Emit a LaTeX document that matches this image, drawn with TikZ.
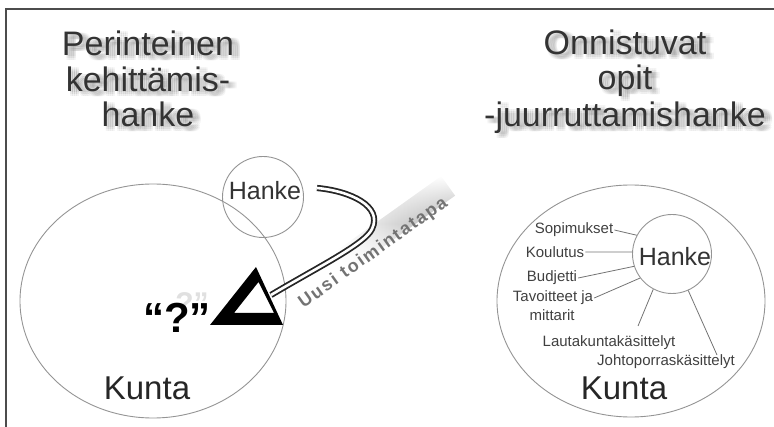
\documentclass[tikz,border=0pt]{standalone}
\usepackage{fontspec}
\setmainfont{Liberation Sans}
\usetikzlibrary{shapes.geometric,calc,fadings}
\tikzfading[name=vsoft, top color=transparent!100, bottom color=transparent!100, middle color=transparent!0]
\begin{document}
\begin{tikzpicture}[x=1pt,y=-1pt,
  title/.style={font=\fontsize{34}{36}\selectfont, text=black!80, inner sep=0pt, anchor=base},
  glow/.style={font=\fontsize{34}{36}\selectfont, text=black, text opacity=0.045, inner sep=0pt, anchor=base},
  ring/.style={draw=black!42, line width=0.9pt},
  lbl/.style={font=\fontsize{15}{17}\selectfont, text=black!75, inner sep=1pt},
  spoke/.style={draw=black!55, line width=0.8pt},
  big/.style={font=\fontsize{33}{36}\selectfont, text=black!85, inner sep=0pt, anchor=base},
  hk/.style={font=\fontsize{25}{28}\selectfont, text=black!80, inner sep=0pt},
  shaft/.style={draw=black!85, line width=1.8pt, double=white, double distance=2.6pt},
]
\useasboundingbox (0,0) rectangle (774,427);
% frame
\draw[black!70, line width=1.2pt] (6,427) -- (6,9) -- (774,9);

% title glows
\foreach \dx in {2,4,6,8}{
  \foreach \dy in {1,3,5}{
    \node[glow] (ga\dx\dy) at (148+\dx,56+\dy) {Perinteinen};
    \node[glow] (gb\dx\dy) at (148+\dx,92+\dy) {kehittämis-};
    \node[glow] (gc\dx\dy) at (148+\dx,127+\dy) {hanke};
    \node[glow] (gd\dx\dy) at (625+\dx,55+\dy) {Onnistuvat};
    \node[glow] (ge\dx\dy) at (625+\dx,90+\dy) {opit};
    \node[glow] (gf\dx\dy) at (625+\dx,127+\dy) {-juurruttamishanke};
  }
}
% titles
\node[title] (t1) at (148,56) {Perinteinen};
\node[title] (t2) at (148,92) {kehittämis-};
\node[title] (t3) at (148,127) {hanke};
\node[title] (t4) at (625,55) {Onnistuvat};
\node[title] (t5) at (625,90) {opit};
\node[title] (t6) at (625,127) {-juurruttamishanke};

% left diagram
\node[ellipse, ring, minimum width=266pt, minimum height=234pt, inner sep=0pt] (kunta1) at (153,301) {};
\node[circle, ring, minimum size=81pt, inner sep=0pt] (hanke1) at (263,197) {};
\node[hk] (hk1) at (265,191) {Hanke};
\node[big] (ku1) at (147,400) {Kunta};

% shadow band behind the rotated label
\begin{scope}[shift={(376,257)}, rotate=35.5]
  \shade[left color=white, right color=black!32, path fading=vsoft] (-30,-4) rectangle (100,-28);
\end{scope}

% shaft
\coordinate (s0) at (317,188);
\coordinate (tip) at (271,295);
\draw[shaft] (s0) .. controls (350,191) and (383,206) .. (372,229) .. controls (365,244) and (318,267) .. (tip);

\node[font=\bfseries\fontsize{18}{21}\selectfont\addfontfeature{LetterSpace=10}, text=black!55, inner sep=0pt, anchor=base, rotate=35.5] (uusi) at (376,257) {Uusi toimintatapa};

% question mark with faint ghost
\node[font=\bfseries\fontsize{30}{34}\selectfont, text=black!35, text opacity=0.35, inner sep=0pt] (qghost) at (192,303) {?”};
\node[font=\bfseries\fontsize{42}{46}\selectfont, text=black, inner sep=0pt] (q) at (177,318) {“?”};

% triangle head
\fill[black, even odd rule] (210,325) -- (256,267) -- (283,325) -- cycle
  (234,313) -- (258.5,282) -- (274,313) -- cycle;

% right diagram
\node[ellipse, ring, minimum width=268pt, minimum height=232pt, inner sep=0pt] (kunta2) at (631,301) {};
\node[circle, ring, minimum size=79pt, inner sep=0pt] (hanke2) at (672,254) {};
\node[hk] (hk2) at (675,257) {Hanke};
\node[big] (ku2) at (624,400) {Kunta};

\node[lbl] (sop) at (574,230) {Sopimukset};
\node[lbl] (kou) at (555,252) {Koulutus};
\node[lbl] (bud) at (552,278) {Budjetti};
\node[lbl] (tav1) at (553,298) {Tavoitteet ja};
\node[lbl] (tav2) at (552,315) {mittarit};
\node[lbl] (lau) at (609,343) {Lautakuntakäsittelyt};
\node[lbl] (joh) at (666,362) {Johtoporraskäsittelyt};
\coordinate (laue) at (638,326);
\coordinate (johe) at (717,355);

\draw[spoke] (sop.east) -- (hanke2.152);
\draw[spoke] (kou.east) -- (hanke2.177);
\draw[spoke] (bud.east) -- (hanke2.198);
\draw[spoke] (tav1.east) -- (hanke2.217);
\draw[spoke] (laue) -- (hanke2.242);
\draw[spoke] (johe) -- (hanke2.294);
\end{tikzpicture}
\end{document}
